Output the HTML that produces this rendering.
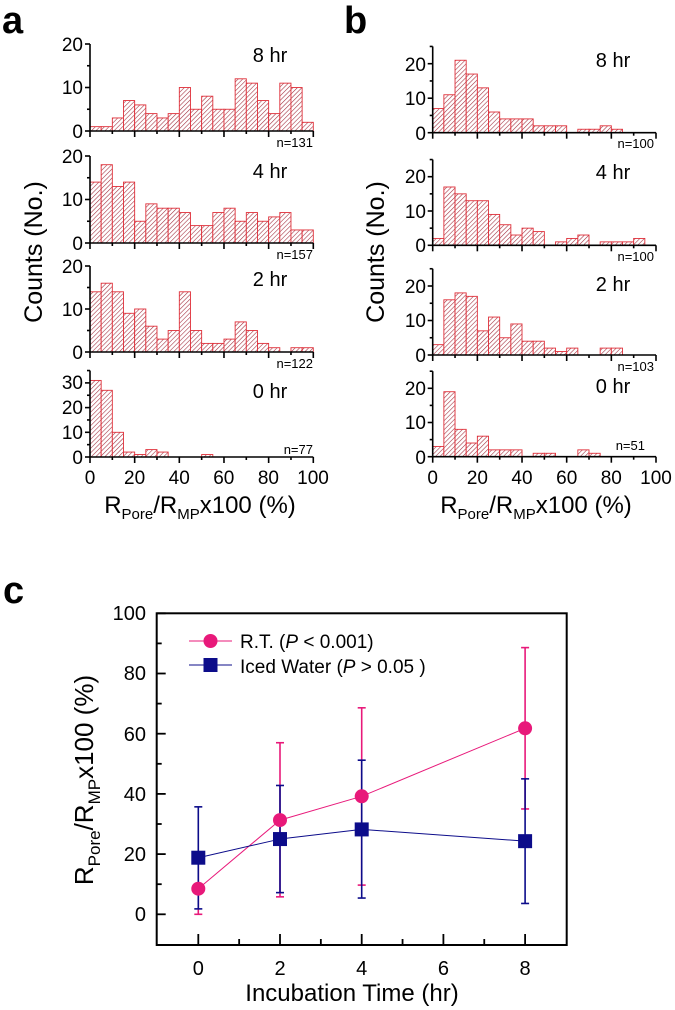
<!DOCTYPE html>
<html><head><meta charset="utf-8"><style>
html,body{margin:0;padding:0;background:#fff}
svg{display:block;font-family:"Liberation Sans",Arial,sans-serif}
</style></head><body>
<svg id="s" width="675" height="1010" viewBox="0 0 675 1010" xmlns="http://www.w3.org/2000/svg">
<defs>
<pattern id="h" patternUnits="userSpaceOnUse" width="3.2" height="3.2" patternTransform="rotate(45)">
<rect width="3.2" height="3.2" fill="#fff"/>
<line x1="0" y1="0" x2="0" y2="3.2" stroke="#a02838" stroke-width="1.1"/>
</pattern>
</defs>
<g id="bars"></g>
<g id="axes" stroke="#000" stroke-width="1.6" fill="none"></g>
<text x="2" y="33" font-size="38" font-weight="bold">a</text>
<text x="344" y="33" font-size="38" font-weight="bold">b</text>
<text x="3" y="603" font-size="38" font-weight="bold">c</text>
<g font-size="19" text-anchor="end">
<text x="83" y="51">20</text><text x="83" y="94">10</text><text x="83" y="138">0</text>
<text x="83" y="163">20</text><text x="83" y="206">10</text><text x="83" y="250">0</text>
<text x="83" y="273">20</text><text x="83" y="316">10</text><text x="83" y="359">0</text>
<text x="83" y="389">30</text><text x="83" y="414">20</text><text x="83" y="439">10</text><text x="83" y="464">0</text>
<text x="426" y="71">20</text><text x="426" y="105">10</text><text x="426" y="140">0</text>
<text x="426" y="183">20</text><text x="426" y="218">10</text><text x="426" y="252">0</text>
<text x="426" y="293">20</text><text x="426" y="327">10</text><text x="426" y="362">0</text>
<text x="426" y="395">20</text><text x="426" y="429">10</text><text x="426" y="464">0</text>
</g>
<g font-size="20" text-anchor="middle">
<text x="270" y="62">8 hr</text><text x="270" y="178">4 hr</text><text x="270" y="286">2 hr</text><text x="270" y="398">0 hr</text>
<text x="613" y="67">8 hr</text><text x="613" y="179">4 hr</text><text x="613" y="291">2 hr</text><text x="613" y="393">0 hr</text>
</g>
<g font-size="19" text-anchor="middle">
<text x="90" y="484">0</text><text x="134.6" y="484">20</text><text x="179.2" y="484">40</text><text x="223.8" y="484">60</text><text x="268.4" y="484">80</text><text x="313" y="484">100</text>
<text x="432.7" y="484">0</text><text x="477.4" y="484">20</text><text x="522" y="484">40</text><text x="566.7" y="484">60</text><text x="611.3" y="484">80</text><text x="656" y="484">100</text>
</g>
<g font-size="13" text-anchor="end">
<text x="313" y="147">n=131</text><text x="313" y="259">n=157</text><text x="313" y="368">n=122</text><text x="313" y="454">n=77</text>
<text x="654" y="148">n=100</text><text x="654" y="261">n=100</text><text x="654" y="371">n=103</text><text x="645" y="450">n=51</text>
</g>
<text x="200" y="513" font-size="24" text-anchor="middle">R<tspan font-size="15" dy="6">Pore</tspan><tspan dy="-6">/R</tspan><tspan font-size="15" dy="6">MP</tspan><tspan dy="-6">x100 (%)</tspan></text>
<text x="536" y="513" font-size="24" text-anchor="middle">R<tspan font-size="15" dy="6">Pore</tspan><tspan dy="-6">/R</tspan><tspan font-size="15" dy="6">MP</tspan><tspan dy="-6">x100 (%)</tspan></text>
<text transform="translate(42,252) rotate(-90)" font-size="25" text-anchor="middle">Counts (No.)</text>
<text transform="translate(384,252) rotate(-90)" font-size="25" text-anchor="middle">Counts (No.)</text>
<g font-size="20" text-anchor="end">
<text x="146" y="620">100</text><text x="146" y="680">80</text><text x="146" y="741">60</text><text x="146" y="801">40</text><text x="146" y="861">20</text><text x="146" y="921">0</text>
</g>
<g font-size="20" text-anchor="middle">
<text x="198.3" y="975">0</text><text x="280" y="975">2</text><text x="361.7" y="975">4</text><text x="443.4" y="975">6</text><text x="525" y="975">8</text>
</g>
<text x="352" y="1001" font-size="24" text-anchor="middle">Incubation Time (hr)</text>
<text transform="translate(93,780) rotate(-90)" font-size="26" text-anchor="middle">R<tspan font-size="17" dy="7">Pore</tspan><tspan dy="-7">/R</tspan><tspan font-size="17" dy="7">MP</tspan><tspan dy="-7">x100 (%)</tspan></text>
<g font-size="19">
<text x="240" y="648">R.T. (<tspan font-style="italic">P</tspan> &lt; 0.001)</text>
<text x="240" y="673">Iced Water (<tspan font-style="italic">P</tspan> &gt; 0.05 )</text>
</g>
<g id="c"></g>
</svg>
<script>
var NS="http://www.w3.org/2000/svg";
function el(p,t,a){var e=document.createElementNS(NS,t);for(var k in a)e.setAttribute(k,a[k]);document.getElementById(p).appendChild(e);return e;}
var xs=2.233;
var P=[
 [90,131,4.35,20,[1,1,3,7,6,4,3,4,10,5,8,5,5,12,11,7,4,11,10,2]],
 [90,243,4.35,20,[14,18,13,14,5,9,8,8,7,4,4,7,8,5,7,5,6,7,3,3]],
 [90,352,4.3,20,[14,16,14,9,10,6,3,5,14,5,2,2,3,7,5,2,1,0,1,1]],
 [90,457,2.47,35,[31,27,10,2,1,3,2,0,0,0,1,0,0,0,0,0,0,0,0,0]],
 [432.7,132.7,3.45,25,[7,11,21,17,13,6,4,4,4,2,2,2,0,1,1,2,1,0,0,0]],
 [432.7,245.3,3.43,25,[2,17,15,13,13,9,6,3,5,4,0,1,2,3,0,1,1,1,2,0]],
 [432.7,355,3.45,25,[3,16,18,17,7,11,5,9,4,4,2,1,2,0,0,2,2,0,0,0]],
 [432.7,456.7,3.42,25,[3,19,8,4,6,2,2,2,0,1,1,0,0,2,1,0,0,0,0,0]]
];
P.forEach(function(p){
 var x0=p[0],y0=p[1],k=p[2],top=p[3],d=p[4];
 d.forEach(function(v,i){if(v>0){el("bars","rect",{x:x0+i*5*xs,y:y0-v*k,width:5*xs,height:v*k,fill:"url(#h)",stroke:"#e0303a","stroke-width":0.9});}});
 el("axes","line",{x1:x0,y1:y0-top*k,x2:x0,y2:y0});
 el("axes","line",{x1:x0,y1:y0,x2:x0+100*xs,y2:y0});
 for(var t=0;t<=top;t+=5){el("axes","line",{x1:x0-(t%10?3:5),y1:y0-t*k,x2:x0,y2:y0-t*k});}
 for(var t=0;t<=100;t+=10){el("axes","line",{x1:x0+t*xs,y1:y0,x2:x0+t*xs,y2:y0+(t%20?3:6)});}
});
var X=function(v){return 198.3+v*40.85},Y=function(v){return 914.3-v*3.01};
el("c","rect",{x:156.7,y:613.3,width:410,height:331.7,fill:"none",stroke:"#000","stroke-width":2});
for(var v=0;v<=100;v+=10)el("c","line",{x1:156.7,y1:Y(v),x2:156.7+(v%20?5:9),y2:Y(v),stroke:"#000","stroke-width":1.8});
for(var v=0;v<=8;v++)el("c","line",{x1:X(v),y1:945,x2:X(v),y2:945-(v%2?6:11),stroke:"#000","stroke-width":1.8});
var pink="#e8197a",navy="#0c0c8a";
var R=[[0,8.5,0,17],[2,31.3,5.8,57],[4,39.2,9.7,68.6],[8,61.8,35,88.6]];
var I=[[0,18.8,1.8,35.7],[2,25,7.2,42.8],[4,28.2,5.4,51.2],[8,24.3,3.6,45]];
function series(D,c){
 for(var i=0;i<D.length-1;i++)el("c","line",{x1:X(D[i][0]),y1:Y(D[i][1]),x2:X(D[i+1][0]),y2:Y(D[i+1][1]),stroke:c,"stroke-width":1});
 D.forEach(function(d){var x=X(d[0]);
  el("c","line",{x1:x,y1:Y(d[2]),x2:x,y2:Y(d[3]),stroke:c,"stroke-width":1.6});
  el("c","line",{x1:x-4,y1:Y(d[2]),x2:x+4,y2:Y(d[2]),stroke:c,"stroke-width":1.6});
  el("c","line",{x1:x-4,y1:Y(d[3]),x2:x+4,y2:Y(d[3]),stroke:c,"stroke-width":1.6});
 });
}
series(R,pink);series(I,navy);
R.forEach(function(d){el("c","circle",{cx:X(d[0]),cy:Y(d[1]),r:7,fill:pink});});
I.forEach(function(d){el("c","rect",{x:X(d[0])-7,y:Y(d[1])-7,width:14,height:14,fill:navy});});
el("c","line",{x1:189,y1:641,x2:232,y2:641,stroke:pink,"stroke-width":1});
el("c","circle",{cx:210.5,cy:641,r:7,fill:pink});
el("c","line",{x1:189,y1:665,x2:232,y2:665,stroke:navy,"stroke-width":1});
el("c","rect",{x:203.5,y:658,width:14,height:14,fill:navy});
</script>
</body></html>
